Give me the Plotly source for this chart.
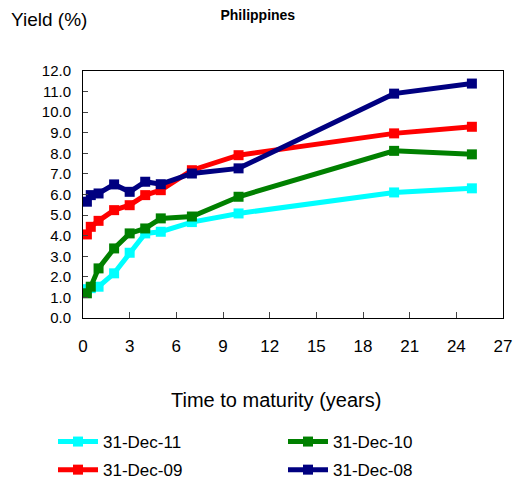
import plotly.graph_objects as go

# Philippine government bond yield curves
maturity = [0.25, 0.5, 1, 2, 3, 4, 5, 7, 10, 20, 25]

dec11 = [1.40, 1.45, 1.52, 2.17, 3.17, 4.11, 4.19, 4.66, 5.08, 6.10, 6.30]
dec10 = [1.20, 1.52, 2.41, 3.38, 4.11, 4.35, 4.84, 4.93, 5.89, 8.12, 7.95]
dec09 = [4.06, 4.43, 4.72, 5.24, 5.48, 5.97, 6.21, 7.18, 7.91, 8.97, 9.29]
dec08 = [5.65, 5.97, 6.05, 6.49, 6.13, 6.62, 6.50, 7.02, 7.27, 10.90, 11.39]

# (label, values, colour, legend column)
series = [
    ("31-Dec-11", dec11, "#00FFFF", "legend"),
    ("31-Dec-10", dec10, "#008000", "legend2"),
    ("31-Dec-09", dec09, "#FF0000", "legend"),
    ("31-Dec-08", dec08, "#000080", "legend2"),
]

FONT = "Liberation Sans, Arial, sans-serif"
W, H = 523, 486
L, R, T, B = 83, 20, 71, 168
PW, PH = W - L - R, H - T - B

fig = go.Figure()
for name, ys, color, leg in series:
    fig.add_trace(go.Scatter(
        x=maturity, y=ys, name=name, mode="lines+markers",
        line=dict(color=color, width=5),
        marker=dict(symbol="square", size=10, color=color),
        legend=leg, legendgroup=name,
    ))


def px_x(x):
    return (x - L) / PW


def px_y(y):
    return (H - B - y) / PH


legend_style = dict(orientation="v", xanchor="left", yanchor="top",
                    font=dict(size=17, family=FONT), tracegroupgap=3,
                    itemwidth=40, bgcolor="rgba(0,0,0,0)")

fig.update_layout(
    width=W, height=H,
    margin=dict(l=L, r=R, t=T, b=B, autoexpand=False),
    paper_bgcolor="white", plot_bgcolor="white",
    font=dict(family=FONT, color="black", size=15),
    title=dict(text="<b>Philippines</b>", x=0.493, xanchor="center",
               y=1 - 15 / H, yanchor="middle",
               font=dict(size=14, family=FONT)),
    xaxis=dict(range=[0, 27], dtick=3, tick0=0, ticks="inside", ticklen=6,
               showline=True, linecolor="black", linewidth=1, mirror=True,
               showgrid=False, zeroline=False, ticklabelstandoff=13,
               tickfont=dict(size=17)),
    yaxis=dict(range=[0, 12], dtick=1, tick0=0, ticks="inside", ticklen=5,
               tickformat=".1f",
               showline=True, linecolor="black", linewidth=1, mirror=True,
               showgrid=False, zeroline=False, ticklabelstandoff=8,
               tickfont=dict(size=15)),
    legend=dict(x=px_x(53), y=px_y(424), **legend_style),
    legend2=dict(x=px_x(283), y=px_y(424), **legend_style),
    annotations=[
        dict(text="Yield (%)", xref="paper", yref="paper",
             x=px_x(9), xanchor="left", y=px_y(20), yanchor="middle",
             showarrow=False, font=dict(size=19, family=FONT)),
        dict(text="Time to maturity (years)", xref="paper", yref="paper",
             x=px_x(276), xanchor="center", y=px_y(400), yanchor="middle",
             showarrow=False, font=dict(size=20, family=FONT)),
    ],
)

fig.write_html("out.html")
